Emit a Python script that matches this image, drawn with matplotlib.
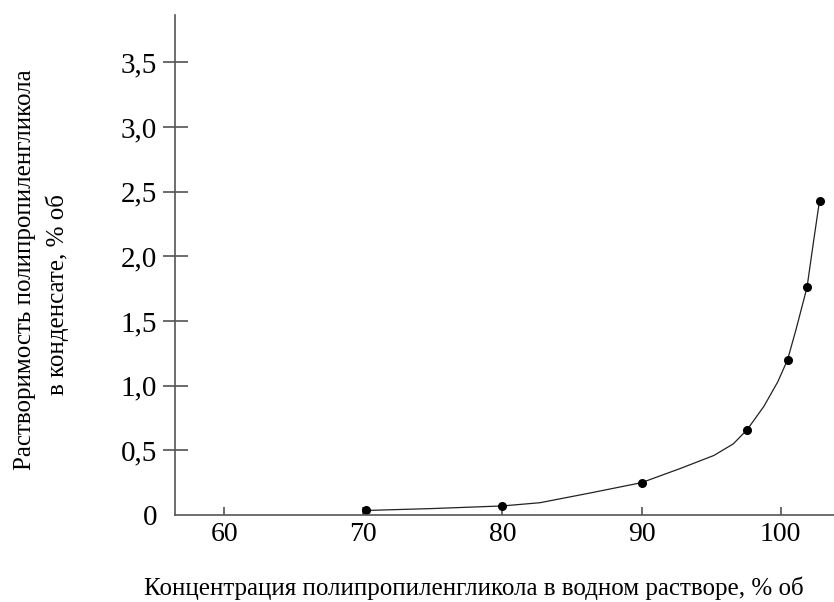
import matplotlib
matplotlib.use("Agg")
import matplotlib.pyplot as plt

# Measured points (markers)
conc = [70.2, 80.0, 90.0, 97.6, 100.5, 101.9, 102.8]
solub = [0.035, 0.07, 0.25, 0.66, 1.20, 1.76, 2.43]

# Smooth curve
curve_x = [70.2, 75.0, 80.0, 82.7, 86.3, 90.0, 92.8, 95.2, 96.6, 97.6, 98.8, 99.8,
           100.5, 101.1, 101.9, 102.35, 102.8]
curve_y = [0.035, 0.05, 0.07, 0.095, 0.17, 0.25, 0.36, 0.46, 0.55, 0.66, 0.84, 1.03,
           1.20, 1.43, 1.76, 2.10, 2.43]

x_ticks = [60, 70, 80, 90, 100]
x_ticklabels = ["60", "70", "80", "90", "100"]
y_ticks = [0, 0.5, 1.0, 1.5, 2.0, 2.5, 3.0, 3.5]
y_ticklabels = ["0", "0,5", "1,0", "1,5", "2,0", "2,5", "3,0", "3,5"]

xlabel = "Концентрация полипропиленгликола в водном растворе, % об"
ylabel1 = "Растворимость полипропиленгликола"
ylabel2 = "в конденсате, % об"

plt.rcParams['font.family'] = ['Liberation Serif', 'DejaVu Serif']

W, H = 834, 602
fig = plt.figure(figsize=(W / 100, H / 100), dpi=100)
ax = fig.add_axes([175 / W, 1 - 515 / H, (834 - 175) / W, (515 - 15) / H])

ax.plot(curve_x, curve_y, color="#222222", lw=0.9)
ax.plot(conc, solub, "o", color="black", ms=5.5)

ax.set_xlim(56.46, 103.84)
ax.set_ylim(0, 3.865)

ax.spines['top'].set_visible(False)
ax.spines['right'].set_visible(False)
for s in ('left', 'bottom'):
    ax.spines[s].set_color("#555555")
    ax.spines[s].set_linewidth(1.2)

ax.set_xticks(x_ticks)
ax.set_xticklabels(x_ticklabels)
ax.set_yticks(y_ticks)
ax.set_yticklabels(y_ticklabels)
ax.tick_params(axis='y', direction='inout', length=18, width=1.1, color="#444444",
               labelsize=21, pad=4)
ax.tick_params(axis='x', direction='in', length=6, width=1.1, color="#444444",
               labelsize=20, pad=5)
# no tick mark at the origin
ax.yaxis.get_major_ticks()[0].tick1line.set_visible(False)

fig.text(474 / W, 1 - 588 / H, xlabel, ha='center', va='center', fontsize=18)
fig.text(25 / W, 1 - 270 / H, ylabel1, ha='center', va='center', rotation=90, fontsize=18)
fig.text(57 / W, 1 - 295 / H, ylabel2, ha='center', va='center', rotation=90, fontsize=18)

fig.savefig("out.png", dpi=100)
